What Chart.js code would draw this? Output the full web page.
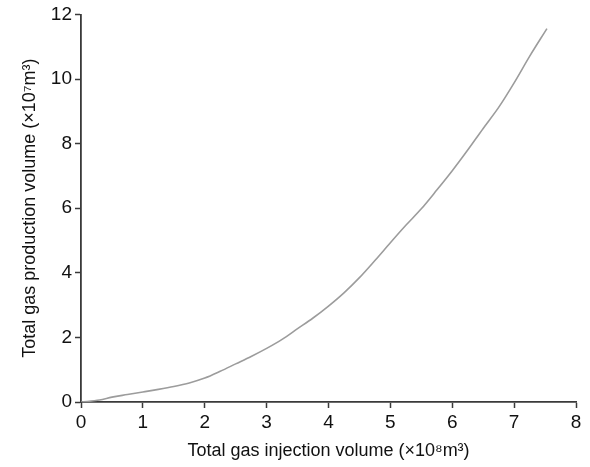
<!DOCTYPE html>
<html>
<head>
<meta charset="utf-8">
<script src="https://cdn.jsdelivr.net/npm/chart.js@4/dist/chart.umd.min.js"></script>
<style>
html,body{margin:0;padding:0;background:#fff;}
#wrap{width:590px;height:467px;}
</style>
</head>
<body>
<div id="wrap"><canvas id="c" width="590" height="467"></canvas></div>
<script>
const injection = [0, 0.3, 0.5, 0.75, 1.0, 1.25, 1.5, 1.75, 2.0, 2.25, 2.5, 2.75, 3.0, 3.25, 3.5, 3.75, 4.0, 4.25, 4.5, 4.75, 5.0, 5.25, 5.5, 5.75, 6.0, 6.25, 6.5, 6.75, 7.0, 7.25, 7.53];
const production = [0, 0.06, 0.15, 0.23, 0.31, 0.39, 0.48, 0.59, 0.74, 0.95, 1.18, 1.41, 1.66, 1.94, 2.27, 2.6, 2.97, 3.38, 3.85, 4.38, 4.93, 5.47, 5.98, 6.56, 7.16, 7.8, 8.47, 9.12, 9.88, 10.7, 11.56];
const xTitle = 'Total gas injection volume (×10⁸m³)';
const yTitle = 'Total gas production volume (×10⁷m³)';

const FONT = "'Liberation Sans', Arial, sans-serif";
const AX = '#3a3a3a';
const PAD = {left: 19, right: 14, top: 8, bottom: 5};
const AREA = {left: 81, right: 576, top: 17, bottom: 402};

new Chart(document.getElementById('c'), {
  type: 'scatter',
  data: {
    datasets: [{
      data: injection.map((x, i) => ({x: x, y: production[i]})),
      showLine: true,
      borderColor: '#9c9c9c',
      borderWidth: 1.6,
      pointRadius: 0,
      cubicInterpolationMode: 'monotone',
      fill: false
    }]
  },
  options: {
    responsive: false,
    animation: false,
    layout: {padding: PAD},
    plugins: {legend: {display: false}, tooltip: {enabled: false}},
    scales: {
      x: {
        type: 'linear', min: 0, max: 8,
        ticks: {stepSize: 1, color: '#111', font: {family: FONT, size: 19}, padding: 3},
        grid: {drawOnChartArea: false, drawTicks: true, tickLength: 6, color: AX, tickWidth: 1.5},
        border: {color: AX, width: 1.8},
        title: {display: true, text: xTitle, color: '#111', font: {family: FONT, size: 18}, padding: {top: 2, bottom: 0}},
        afterFit: s => { s.height = 467 - AREA.bottom - PAD.bottom; }
      },
      y: {
        type: 'linear', min: 0, max: 12,
        ticks: {stepSize: 2, color: '#111', font: {family: FONT, size: 19}, padding: 3},
        grid: {drawOnChartArea: false, drawTicks: true, tickLength: 6, color: AX, tickWidth: 1.5},
        border: {color: AX, width: 1.8},
        title: {display: true, text: yTitle, color: '#111', font: {family: FONT, size: 18}, padding: {top: 0, bottom: 2}},
        afterFit: s => { s.width = AREA.left - PAD.left; }
      }
    }
  }
});
</script>
</body>
</html>
